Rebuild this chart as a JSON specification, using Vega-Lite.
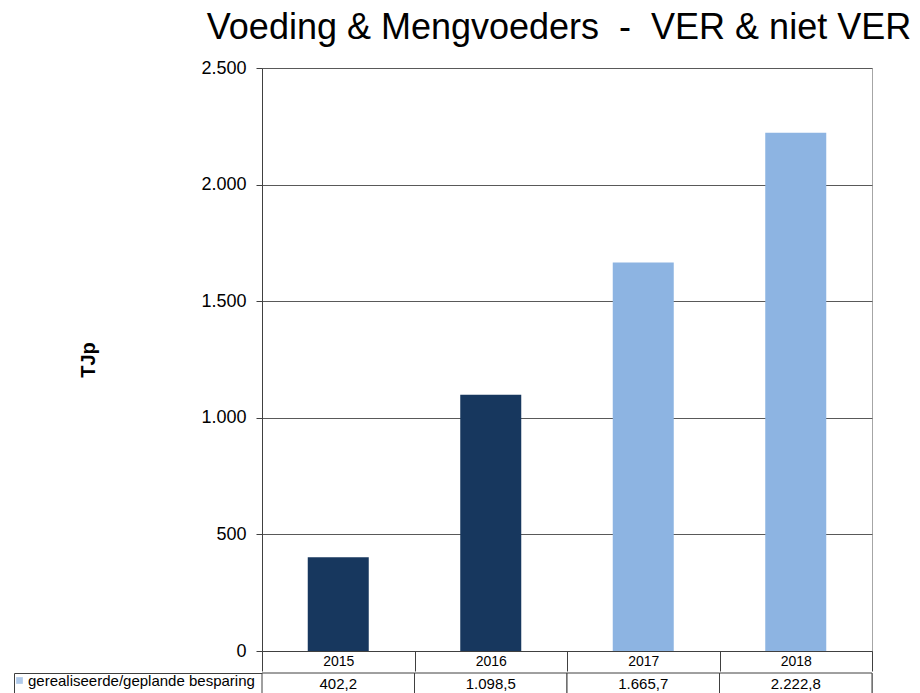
{
  "$schema": "https://vega.github.io/schema/vega-lite/v6.json",
  "padding": {"left": 12, "top": 9, "right": 5, "bottom": 0},
  "config": {
    "locale": {"number": {"decimal": ",", "thousands": ".", "grouping": [3], "currency": ["€", ""]}},
    "font": "Liberation Sans",
    "view": {"stroke": "#a6a6a6"},
    "concat": {"spacing": 0}
  },
  "datasets": {
    "d": [
      {"jaar": "2015", "waarde": 402.2, "status": "gerealiseerd", "reeks": "gerealiseerde/geplande besparing"},
      {"jaar": "2016", "waarde": 1098.5, "status": "gerealiseerd", "reeks": "gerealiseerde/geplande besparing"},
      {"jaar": "2017", "waarde": 1665.7, "status": "gepland", "reeks": "gerealiseerde/geplande besparing"},
      {"jaar": "2018", "waarde": 2222.8, "status": "gepland", "reeks": "gerealiseerde/geplande besparing"}
    ]
  },
  "spacing": 0,
  "vconcat": [
    {
      "width": 610,
      "height": 583,
      "title": {"text": "Voeding & Mengvoeders \u00a0-\u00a0 VER & niet VER", "fontSize": 36, "fontWeight": "normal", "offset": 12, "anchor": "middle", "dx": -8, "color": "#000000"},
      "data": {"name": "d"},
      "mark": {"type": "bar", "width": {"band": 0.4}},
      "encoding": {
        "x": {
          "field": "jaar", "type": "nominal",
          "scale": {"paddingInner": 0, "paddingOuter": 0},
          "axis": {"title": null, "labelAngle": 0, "tickBand": "extent", "tickSize": 20, "labelPadding": -17, "labelFontSize": 14, "labelColor": "#000000", "domainColor": "#404040", "tickColor": "#404040", "grid": false}
        },
        "y": {
          "field": "waarde", "type": "quantitative",
          "scale": {"domain": [0, 2500]},
          "axis": {"values": [0, 500, 1000, 1500, 2000, 2500], "format": ",d", "title": "TJp", "titleFontSize": 20, "titleFontWeight": "bold", "titleColor": "#000000", "titlePadding": 102, "labelFontSize": 18, "labelColor": "#000000", "labelPadding": 10, "tickSize": 6, "tickColor": "#404040", "domainColor": "#404040", "gridColor": "#595959"}
        },
        "color": {
          "field": "status", "type": "nominal",
          "scale": {"domain": ["gerealiseerd", "gepland"], "range": ["#17375E", "#8DB4E2"]},
          "legend": null
        }
      }
    },
    {
      "width": 610,
      "height": 21,
      "data": {"name": "d"},
      "encoding": {
        "x": {"field": "jaar", "type": "nominal", "scale": {"paddingInner": 0, "paddingOuter": 0}, "axis": null},
        "y": {"field": "reeks", "type": "nominal", "scale": {"paddingInner": 0, "paddingOuter": 0},
          "axis": {"title": null, "labels": false, "offset": 248, "tickBand": "extent", "tickSize": -248, "domainColor": "#404040", "tickColor": "#404040", "grid": false}}
      },
      "layer": [
        {
          "mark": {"type": "square", "filled": true, "size": 30},
          "encoding": {
            "fill": {"field": "reeks", "type": "nominal", "scale": {"range": ["#8DB4E2"]},
              "legend": {"orient": "none", "legendX": -250, "legendY": 605, "title": null, "symbolType": "square", "symbolSize": 45, "labelFontSize": 15, "labelOffset": 1, "labelColor": "#000000", "labelLimit": 300, "symbolOffset": 0, "padding": 0}}
          }
        },
        {"mark": {"type": "rect", "fill": "white", "stroke": "#404040", "strokeWidth": 1}},
        {"mark": {"type": "text", "fontSize": 15, "color": "#000000"}, "encoding": {"text": {"field": "waarde", "type": "quantitative", "format": ",.1f"}}}
      ]
    }
  ]
}
